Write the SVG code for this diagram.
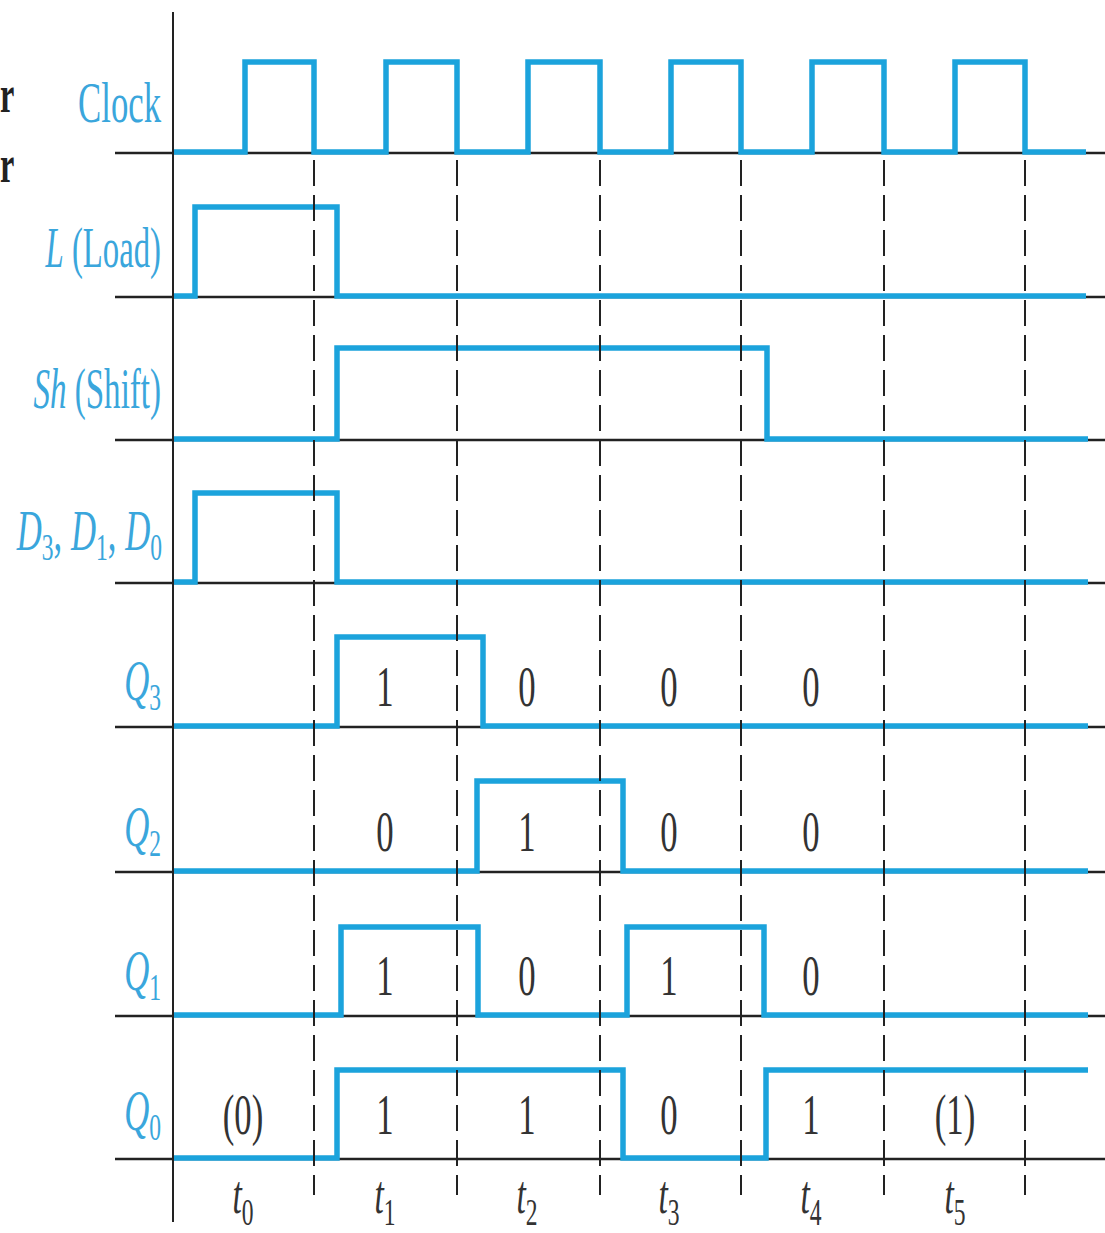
<svg xmlns="http://www.w3.org/2000/svg" width="1105" height="1233" viewBox="0 0 1105 1233">
<style>
.base{stroke:#222;stroke-width:2.5;fill:none}
.sig{stroke:#1ba3dc;stroke-width:5.5;fill:none;stroke-linejoin:miter;stroke-linecap:butt}
.dash{stroke:#222;stroke-width:2;stroke-dasharray:26 9;fill:none}
.axis{stroke:#222;stroke-width:2;fill:none}
.lbl{font-family:"Liberation Serif","Times New Roman",serif;font-size:56px;fill:#3aa6dc}
.num{font-family:"Liberation Serif","Times New Roman",serif;font-size:56px;fill:#333;text-anchor:middle}
.tl{font-family:"Liberation Serif","Times New Roman",serif;font-size:54px;fill:#333;text-anchor:middle}
.it{font-style:italic}
.sub{font-size:38px}
</style>
<rect width="1105" height="1233" fill="#fff"/>
<text transform="translate(0,112) scale(0.62,1)" style="font-family:'Liberation Serif',serif;font-size:52px;font-weight:bold;fill:#222">r</text>
<text transform="translate(0,182) scale(0.62,1)" style="font-family:'Liberation Serif',serif;font-size:52px;font-weight:bold;fill:#222">r</text>

<g id="clock">
<line class="base" x1="115" y1="153" x2="1105" y2="153"/>
<path class="sig" d="M173,152 H245 V62 H314 V152 H386 V62 H457 V152 H528 V62 H600 V152 H671 V62 H741 V152 H812 V62 H884 V152 H955 V62 H1025 V152 H1086"/>
<text class="lbl" text-anchor="end" transform="translate(161,122) scale(0.62,1)">Clock</text>
</g>

<g id="load">
<line class="base" x1="115" y1="297" x2="1105" y2="297"/>
<path class="sig" d="M173,296 H195 V207 H337 V296 H1086"/>
<text class="lbl" text-anchor="end" transform="translate(161,267) scale(0.585,1)"><tspan class="it">L</tspan> (Load)</text>
</g>

<g id="shift">
<line class="base" x1="115" y1="440" x2="1105" y2="440"/>
<path class="sig" d="M173,439 H337 V348 H767 V439 H1088"/>
<text class="lbl" text-anchor="end" transform="translate(161,408) scale(0.59,1)"><tspan class="it">Sh</tspan> (Shift)</text>
</g>

<g id="d-inputs">
<line class="base" x1="115" y1="583" x2="1105" y2="583"/>
<path class="sig" d="M173,582 H195 V493 H337 V582 H1088"/>
<text class="lbl" text-anchor="end" transform="translate(162,550) scale(0.62,1)"><tspan class="it">D</tspan><tspan class="sub" dy="10">3</tspan><tspan dy="-10">, </tspan><tspan class="it">D</tspan><tspan class="sub" dy="10">1</tspan><tspan dy="-10">, </tspan><tspan class="it">D</tspan><tspan class="sub" dy="10">0</tspan></text>
</g>

<g id="q3">
<line class="base" x1="115" y1="727" x2="1105" y2="727"/>
<path class="sig" d="M173,726 H337 V637 H483 V726 H1088"/>
<text class="lbl" text-anchor="end" transform="translate(161,700) scale(0.62,1)"><tspan class="it">Q</tspan><tspan class="sub" dy="10">3</tspan></text>
<text class="num" transform="translate(385,706) scale(0.62,1)">1</text>
<text class="num" transform="translate(527,706) scale(0.62,1)">0</text>
<text class="num" transform="translate(669,706) scale(0.62,1)">0</text>
<text class="num" transform="translate(811,706) scale(0.62,1)">0</text>
</g>

<g id="q2">
<line class="base" x1="115" y1="872" x2="1105" y2="872"/>
<path class="sig" d="M173,871 H477 V781 H623 V871 H1088"/>
<text class="lbl" text-anchor="end" transform="translate(161,846) scale(0.62,1)"><tspan class="it">Q</tspan><tspan class="sub" dy="10">2</tspan></text>
<text class="num" transform="translate(385,851) scale(0.62,1)">0</text>
<text class="num" transform="translate(527,851) scale(0.62,1)">1</text>
<text class="num" transform="translate(669,851) scale(0.62,1)">0</text>
<text class="num" transform="translate(811,851) scale(0.62,1)">0</text>
</g>

<g id="q1">
<line class="base" x1="115" y1="1016" x2="1105" y2="1016"/>
<path class="sig" d="M173,1015 H341 V927 H478 V1015 H627 V927 H764 V1015 H1088"/>
<text class="lbl" text-anchor="end" transform="translate(161,990) scale(0.62,1)"><tspan class="it">Q</tspan><tspan class="sub" dy="10">1</tspan></text>
<text class="num" transform="translate(385,995) scale(0.62,1)">1</text>
<text class="num" transform="translate(527,995) scale(0.62,1)">0</text>
<text class="num" transform="translate(669,995) scale(0.62,1)">1</text>
<text class="num" transform="translate(811,995) scale(0.62,1)">0</text>
</g>

<g id="q0">
<line class="base" x1="115" y1="1159" x2="1105" y2="1159"/>
<path class="sig" d="M173,1158 H337 V1070 H623 V1158 H766 V1070 H1088"/>
<text class="lbl" text-anchor="end" transform="translate(161,1130) scale(0.62,1)"><tspan class="it">Q</tspan><tspan class="sub" dy="10">0</tspan></text>
<text class="num" transform="translate(243,1134) scale(0.62,1)">(0)</text>
<text class="num" transform="translate(385,1134) scale(0.62,1)">1</text>
<text class="num" transform="translate(527,1134) scale(0.62,1)">1</text>
<text class="num" transform="translate(669,1134) scale(0.62,1)">0</text>
<text class="num" transform="translate(811,1134) scale(0.62,1)">1</text>
<text class="num" transform="translate(955,1134) scale(0.62,1)">(1)</text>
</g>

<g id="grid">
<line class="axis" x1="173" y1="12" x2="173" y2="1222"/>
<line class="dash" x1="314" y1="160" x2="314" y2="1195"/>
<line class="dash" x1="457" y1="160" x2="457" y2="1195"/>
<line class="dash" x1="600" y1="160" x2="600" y2="1195"/>
<line class="dash" x1="741" y1="160" x2="741" y2="1195"/>
<line class="dash" x1="884" y1="160" x2="884" y2="1195"/>
<line class="dash" x1="1025" y1="160" x2="1025" y2="1195"/>
</g>

<g id="time-labels">
<text class="tl" transform="translate(243,1213) scale(0.62,1)"><tspan class="it">t</tspan><tspan class="sub" dy="12">0</tspan></text>
<text class="tl" transform="translate(385,1213) scale(0.62,1)"><tspan class="it">t</tspan><tspan class="sub" dy="12">1</tspan></text>
<text class="tl" transform="translate(527,1213) scale(0.62,1)"><tspan class="it">t</tspan><tspan class="sub" dy="12">2</tspan></text>
<text class="tl" transform="translate(669,1213) scale(0.62,1)"><tspan class="it">t</tspan><tspan class="sub" dy="12">3</tspan></text>
<text class="tl" transform="translate(811,1213) scale(0.62,1)"><tspan class="it">t</tspan><tspan class="sub" dy="12">4</tspan></text>
<text class="tl" transform="translate(955,1213) scale(0.62,1)"><tspan class="it">t</tspan><tspan class="sub" dy="12">5</tspan></text>
</g>
</svg>
